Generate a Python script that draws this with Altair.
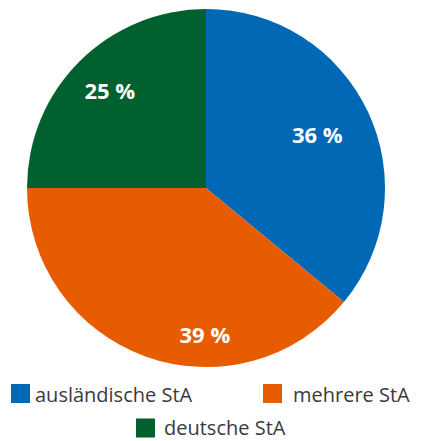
import altair as alt
import pandas as pd

categories = ["ausländische StA", "mehrere StA", "deutsche StA"]
values = [36, 39, 25]
labels = ["36 %", "39 %", "25 %"]
colors = ["#0068b4", "#e85c00", "#00612e"]

df = pd.DataFrame({"cat": categories, "val": values, "label": labels,
                   "order": list(range(len(categories)))})

color_scale = alt.Scale(domain=categories, range=colors)
CX, CY, R = 198, 180, 179

base = alt.Chart(df).encode(
    theta=alt.Theta("val:Q", stack=True),
    order=alt.Order("order:Q"),
)

pie = base.mark_arc(radius=R, x=CX, y=CY).encode(
    color=alt.Color("cat:N", scale=color_scale, legend=None)
)

def lab(cat, r, dx=0, dy=0):
    return base.mark_text(radius=r, x=CX, y=CY, dx=dx, dy=dy, font="Open Sans",
                          fontWeight="bold", fontSize=22, color="white",
                          align="center", baseline="middle").encode(
        text="label:N",
        opacity=alt.condition(alt.datum.cat == cat, alt.value(1), alt.value(0)),
    )

labs = [lab(categories[0], 123), lab(categories[1], 148, dx=49, dy=9), lab(categories[2], 136)]

leg_pos = {categories[0]: (12.5, 385.5, 27, 394),
           categories[1]: (264.5, 385.5, 285, 394),
           categories[2]: (137.5, 420, 156, 427)}

legend_layers = []
for c in categories:
    sx, sy, tx, ty = leg_pos[c]
    d = alt.Chart(df).transform_filter(alt.datum.cat == c)
    legend_layers.append(d.mark_square(size=361, opacity=1).encode(
        x=alt.value(sx), y=alt.value(sy),
        color=alt.Color("cat:N", scale=color_scale, legend=None)))
    legend_layers.append(d.mark_text(align="left", baseline="alphabetic", font="Open Sans",
                                     fontSize=20, color="#3a3a3a").encode(
        x=alt.value(tx), y=alt.value(ty), text="cat:N"))

chart = alt.layer(pie, *labs, *legend_layers).properties(
    width=405, height=433, padding=0, autosize=alt.AutoSizeParams(type="none")
).configure_view(stroke=None)

chart.save("out.html", embed_options={"renderer": "svg", "actions": False})
